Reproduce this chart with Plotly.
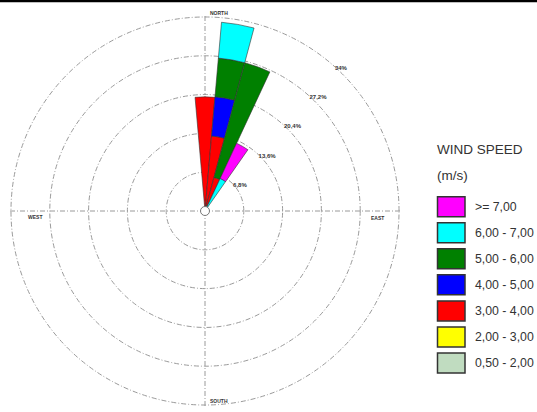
import plotly.graph_objects as go

# ---- data (frequency %, per direction sector) ----
directions = [0, 10, 20, 30]
speed_classes = ["0,50 - 2,00", "2,00 - 3,00", "3,00 - 4,00", "4,00 - 5,00",
                 "5,00 - 6,00", "6,00 - 7,00", ">= 7,00"]
freq_050_200 = [0.0, 0.0, 0.0, 0.0]
freq_200_300 = [0.0, 0.0, 0.0, 0.0]
freq_300_400 = [20.0, 13.2, 6.1, 0.0]
freq_400_500 = [0.0, 6.9, 0.0, 0.0]
freq_500_600 = [0.0, 6.8, 20.8, 0.0]
freq_600_700 = [0.0, 6.3, 0.0, 6.3]
freq_700_up = [0.0, 0.0, 0.0, 6.8]
ring_values = [6.8, 13.6, 20.4, 27.2, 34]
ring_labels = ["6,8%", "13,6%", "20,4%", "27,2%", "34%"]
compass_labels = ["NORTH", "EAST", "SOUTH", "WEST"]

series = [freq_050_200, freq_200_300, freq_300_400, freq_400_500,
          freq_500_600, freq_600_700, freq_700_up]
colors = ["#C0DCC0", "#FFFF00", "#FF0000", "#0000FF", "#008000", "#00FFFF", "#FF00FF"]

W, H = 537, 412
cx, cy = 205, 211
R_total = 196.3
rmax = 34.4

fig = go.Figure()
for vals, lab, col in zip(series, speed_classes, colors):
    fig.add_trace(go.Barpolar(
        r=vals, theta=directions, width=[10] * len(directions), name=lab,
        marker=dict(color=col, line=dict(color="#333333", width=0.6)),
        showlegend=False, hoverinfo="skip"))

fig.add_trace(go.Scatterpolar(
    r=[0], theta=[0], mode="markers", showlegend=False, hoverinfo="skip",
    marker=dict(size=9, color="white", line=dict(color="#777777", width=1))))

grid_dash = "5px,2px,1px,2px"
fig.update_layout(
    width=W, height=H, margin=dict(l=0, r=0, t=0, b=0),
    paper_bgcolor="white", plot_bgcolor="white",
    barmode="stack",
    polar=dict(
        domain=dict(x=[(cx - R_total) / W, (cx + R_total) / W],
                    y=[(H - cy - R_total) / H, (H - cy + R_total) / H]),
        bgcolor="white",
        bargap=0,
        radialaxis=dict(range=[0, rmax], tickvals=ring_values, ticktext=ring_labels,
                        angle=49, tickangle=49, showline=False, ticks="",
                        gridcolor="#9a9a9a", griddash=grid_dash, gridwidth=1,
                        tickfont=dict(family="Liberation Sans", size=6, color="#333333",
                                      weight="bold")),
        angularaxis=dict(rotation=90, direction="clockwise",
                         tickvals=[0, 90, 180, 270], showticklabels=False, ticks="",
                         showline=False, gridcolor="#9a9a9a", griddash=grid_dash,
                         gridwidth=1),
    ),
)

# compass labels
lab_font = dict(family="Liberation Sans", size=5, color="#333333", weight="bold")
compass_pos = [(208, 13), (369, 218), (208, 401), (26, 217)]
for txt, (px, py) in zip(compass_labels, compass_pos):
    fig.add_annotation(text=txt, x=px / W, y=(H - py) / H, xref="paper", yref="paper",
                       xanchor="left", yanchor="middle", showarrow=False, font=lab_font)

# legend (drawn as layout decoration)
title_font = dict(family="Liberation Sans", size=13.5, color="#333333")
fig.add_annotation(text="WIND SPEED", x=435 / W, y=(H - 150) / H, xref="paper", yref="paper",
                   xanchor="left", yanchor="middle", showarrow=False, font=title_font)
fig.add_annotation(text="(m/s)", x=435 / W, y=(H - 175) / H, xref="paper", yref="paper",
                   xanchor="left", yanchor="middle", showarrow=False, font=title_font)
for i, (lab, col) in enumerate(zip(speed_classes[::-1], colors[::-1])):
    yc = 206.7 + i * 26.05
    fig.add_shape(type="rect", xref="paper", yref="paper",
                  x0=437.5 / W, x1=465 / W, y0=(H - yc - 10) / H, y1=(H - yc + 10) / H,
                  fillcolor=col, line=dict(color="#333333", width=1.5))
    fig.add_annotation(text=lab, x=473 / W, y=(H - yc) / H, xref="paper", yref="paper",
                       xanchor="left", yanchor="middle", showarrow=False,
                       font=dict(family="Liberation Sans", size=12.3, color="#333333"))

# top border line
fig.add_shape(type="line", xref="paper", yref="paper", x0=0, x1=1, y0=(H - 1) / H, y1=(H - 1) / H,
              line=dict(color="black", width=2.5))

fig.write_html("out.html")
